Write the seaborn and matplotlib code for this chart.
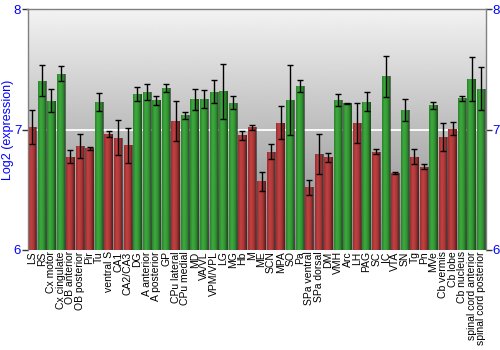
import numpy as np
import pandas as pd
import matplotlib
matplotlib.use("Agg")
import matplotlib.pyplot as plt
import seaborn as sns

regions = ["LS", "RS", "Cx motor", "Cx cingulate", "OB anterior", "OB posterior", "Pir", "Tu",
           "ventral S", "CA1", "CA2/CA3", "DG", "A anterior", "A posterior", "GP", "CPu lateral",
           "CPu medial", "MD", "VA/VL", "VPM/VPL", "LG", "MG", "Hb", "M", "ME", "SCN", "MPA",
           "SO", "Pa", "SPa ventral", "SPa dorsal", "DM", "VMH", "Arc", "LH", "PAG", "SC", "IC",
           "VTA", "SN", "Tg", "Pn", "MVe", "Cb vermis", "Cb lobe", "Cb nucleus",
           "spinal cord anterior", "spinal cord posterior"]
values = [7.025, 7.406, 7.24, 7.467, 6.776, 6.862, 6.845, 7.23,
          6.96, 6.934, 6.87, 7.293, 7.312, 7.243, 7.348, 7.072,
          7.119, 7.254, 7.257, 7.315, 7.318, 7.224, 6.953, 7.019, 6.569, 6.818, 7.058,
          7.249, 7.365, 6.52, 6.798, 6.77, 7.246, 7.218, 7.058, 7.232, 6.818, 7.445,
          6.64, 7.163, 6.776, 6.693, 7.204, 6.942, 7.008, 7.262,
          7.423, 7.34]
errors = [0.14, 0.13, 0.095, 0.06, 0.057, 0.10, 0.01, 0.073,
          0.025, 0.144, 0.148, 0.058, 0.069, 0.04, 0.033, 0.167,
          0.028, 0.088, 0.073, 0.095, 0.232, 0.055, 0.036, 0.02, 0.077, 0.062, 0.135,
          0.29, 0.05, 0.06, 0.166, 0.035, 0.05, 0.005, 0.166, 0.08, 0.02, 0.17,
          0.012, 0.088, 0.06, 0.02, 0.028, 0.116, 0.053, 0.02,
          0.185, 0.18]
groups = ["r", "g", "g", "g", "r", "r", "r", "g",
          "r", "r", "r", "g", "g", "g", "g", "r",
          "g", "g", "g", "g", "g", "g", "r", "r", "r", "r", "r",
          "g", "g", "r", "r", "r", "g", "g", "r", "g", "r", "g",
          "r", "g", "r", "r", "g", "r", "r", "g",
          "g", "g"]
yticks = [6, 7, 8]

RED = "#bc3e3e"
GREEN = "#3aa53a"
palette = [RED if g == "r" else GREEN for g in groups]

df = pd.DataFrame({"region": regions, "value": values, "err": errors})

fig = plt.figure(figsize=(5, 3.5), dpi=100)
ax = fig.add_axes([0.055, 0.286, 0.917, 0.687])

# gradient background
grad = np.linspace(0.95, 0.53, 256).reshape(-1, 1)
ax.imshow(grad, cmap="gray", vmin=0, vmax=1, aspect="auto", extent=[0, 1, 0, 1],
          transform=ax.transAxes, zorder=0, interpolation="bilinear")

sns.barplot(data=df, x="region", y="value", hue="region", palette=palette, legend=False,
            width=0.88, ax=ax, zorder=2, linewidth=0, saturation=1)

ax.axhline(7, color="white", lw=1.3, zorder=1)

# shading overlay for each bar
prof = np.array([0.18, 0.0, 0.0, 0.08, 0.25, 0.5])
rgba = np.zeros((1, len(prof), 4))
rgba[0, :, 3] = prof
for p in ax.patches:
    x0 = p.get_x(); w = p.get_width(); h = p.get_height()
    im = ax.imshow(rgba, aspect="auto", extent=[x0, x0 + w, 6, max(h, 6)], zorder=2.5,
                   interpolation="bilinear")
    im.set_clip_path(p)

xs = [p.get_x() + p.get_width() / 2 for p in ax.patches]
ax.errorbar(xs, df["value"], yerr=df["err"], fmt="none", ecolor="black", elinewidth=1,
            capsize=2, capthick=1, zorder=3)

ax.set_xlim(-0.5, len(regions) - 0.5)
ax.set_ylim(6, 8)
ax.set_yticks(yticks)
ax.set_yticklabels([str(t) for t in yticks])
ax.tick_params(axis="y", which="both", left=True, right=True, labelleft=True, labelright=True,
               colors="#333333", labelcolor="blue", labelsize=9.5, length=4, width=1, pad=0.5)
ax.tick_params(axis="x", length=0, pad=1)
ax.set_xticks(range(len(regions)))
ax.set_xticklabels(regions, rotation=90, fontsize=7.5, family="Liberation Sans")
for lab in ax.get_yticklabels():
    lab.set_family("Liberation Sans")
ax.set_xlabel("")
ax.set_ylabel("Log2 (expression)", color="blue", fontsize=9, family="Liberation Sans")
ax.yaxis.set_label_coords(-0.03, 0.5)

for s in ["left", "right", "top"]:
    ax.spines[s].set_color("#808080")
    ax.spines[s].set_linewidth(1)
ax.spines["bottom"].set_visible(False)

fig.savefig("out.png", dpi=100)
